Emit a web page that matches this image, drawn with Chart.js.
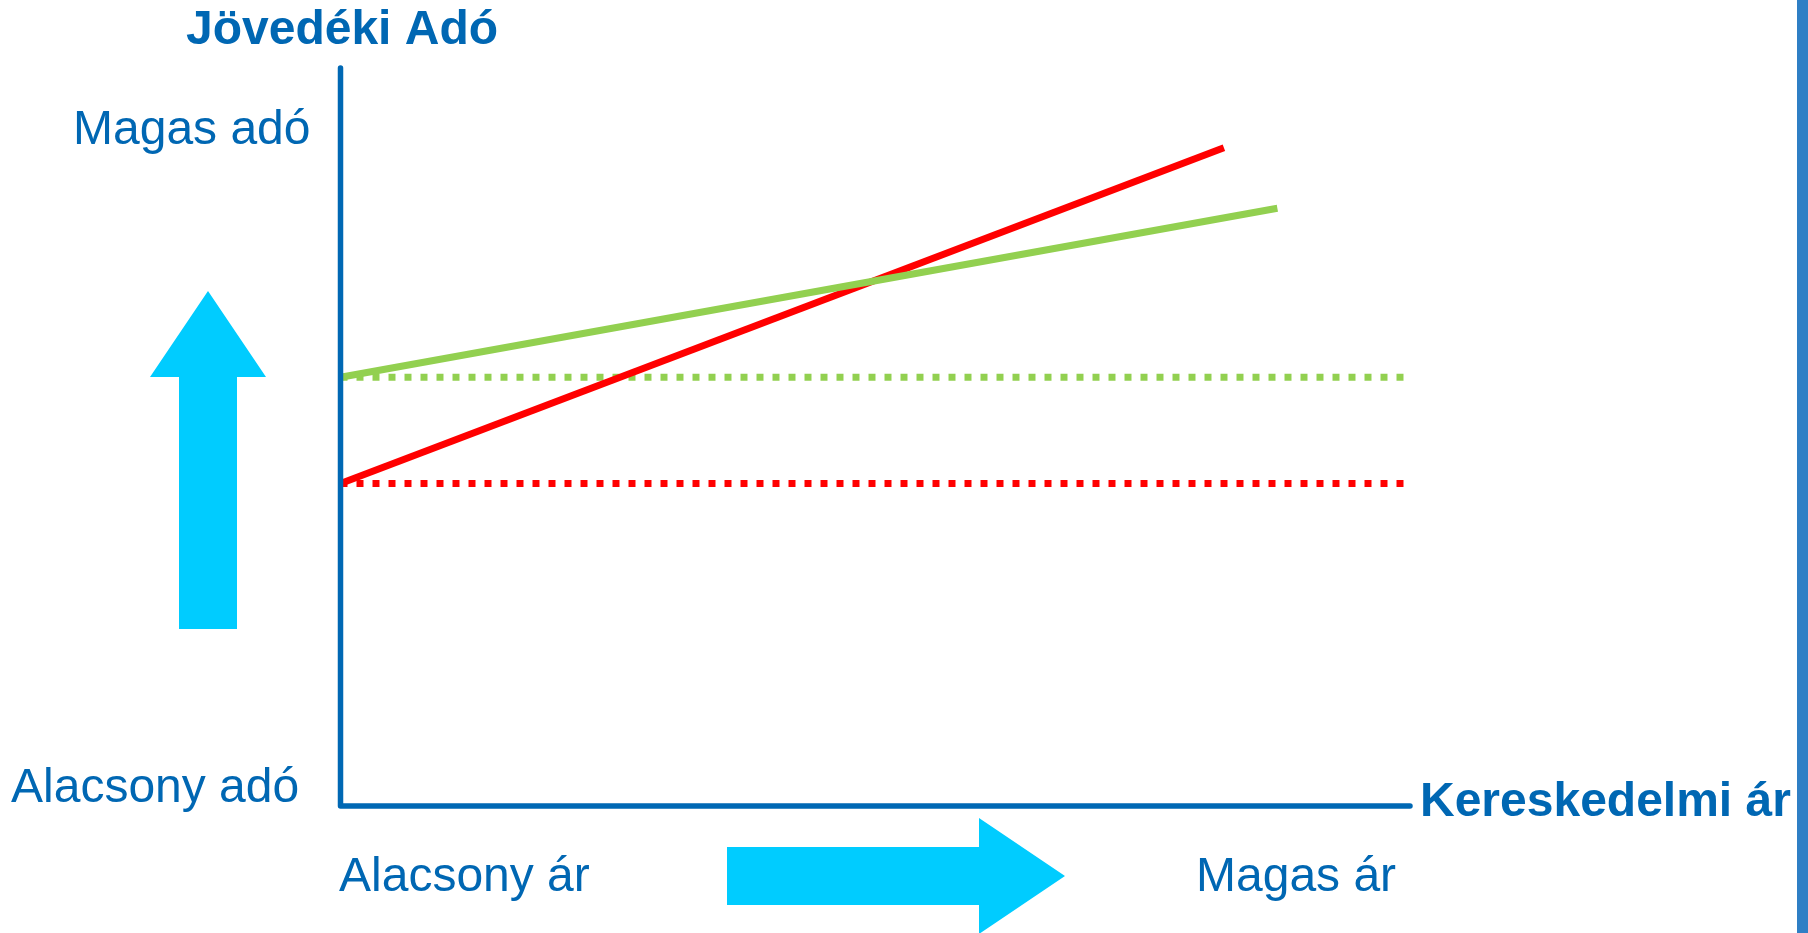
<!DOCTYPE html>
<html>
<head>
<meta charset="utf-8">
<script src="https://cdn.jsdelivr.net/npm/chart.js@4/dist/chart.umd.min.js"></script>
<style>
  html, body { margin: 0; padding: 0; background: #ffffff; overflow: hidden; }
  #wrap { position: relative; width: 1808px; height: 933px; }
</style>
</head>
<body>
<div id="wrap"><canvas id="c" width="1808" height="933"></canvas></div>
<script>
// ---- data ----
const priceRange = [0, 100];          // Kereskedelmi ár (relative)
const taxRange = [0, 100];            // Jövedéki adó (relative)

const greenSolidX = [0, 87.6];
const greenSolidY = [58.1, 81.0];
const redSolidX = [0, 82.6];
const redSolidY = [43.7, 89.2];

const dottedX = [0, 100];
const greenDottedY = [58.1, 58.1];
const redDottedY = [43.7, 43.7];

const titleY = 'Jövedéki Adó';
const titleX = 'Kereskedelmi ár';
const yTickLabels = ['Magas adó', 'Alacsony adó'];
const xTickLabels = ['Alacsony ár', 'Magas ár'];

function pts(xs, ys) { return xs.map((x, i) => ({ x: x, y: ys[i] })); }

const TEXT_BLUE = '#0067b3';
const AXIS_BLUE = '#0068b4';
const CYAN = '#00ccff';
const GREEN = '#92d050';
const RED = '#ff0000';
const FONT = '"Liberation Sans", Arial, sans-serif';

const decorPlugin = {
  id: 'decor',
  beforeDraw(chart) {
    const ctx = chart.ctx;
    ctx.save();
    ctx.fillStyle = '#ffffff';
    ctx.fillRect(0, 0, chart.width, chart.height);
    // blue strip at the right edge
    ctx.fillStyle = '#2f7fc5';
    ctx.fillRect(1797, 0, 11, chart.height);
    ctx.restore();
  },
  afterDatasetsDraw(chart) {
    const ctx = chart.ctx;
    const xs = chart.scales.x, ys = chart.scales.y;
    const x0 = xs.getPixelForValue(priceRange[0]);
    const x1 = xs.getPixelForValue(priceRange[1]);
    const y0 = ys.getPixelForValue(taxRange[0]);
    const y1 = ys.getPixelForValue(taxRange[1]);
    ctx.save();
    // axes
    ctx.strokeStyle = AXIS_BLUE;
    ctx.lineWidth = 5.5;
    ctx.lineCap = 'round';
    ctx.lineJoin = 'round';
    ctx.beginPath();
    ctx.moveTo(x0, y1);
    ctx.lineTo(x0, y0);
    ctx.lineTo(x1, y0);
    ctx.stroke();

    // up arrow
    ctx.fillStyle = CYAN;
    ctx.beginPath();
    ctx.moveTo(208, 291);
    ctx.lineTo(266, 377);
    ctx.lineTo(237, 377);
    ctx.lineTo(237, 629);
    ctx.lineTo(179, 629);
    ctx.lineTo(179, 377);
    ctx.lineTo(150, 377);
    ctx.closePath();
    ctx.fill();

    // right arrow
    ctx.beginPath();
    ctx.moveTo(1065, 876);
    ctx.lineTo(979, 818);
    ctx.lineTo(979, 847);
    ctx.lineTo(727, 847);
    ctx.lineTo(727, 905);
    ctx.lineTo(979, 905);
    ctx.lineTo(979, 934);
    ctx.closePath();
    ctx.fill();

    // texts
    ctx.fillStyle = TEXT_BLUE;
    ctx.textBaseline = 'alphabetic';
    ctx.textAlign = 'left';
    ctx.font = 'bold 48px ' + FONT;
    ctx.fillText(titleY, 186, 44);
    ctx.fillText(titleX, 1420, 816);
    ctx.font = '48px ' + FONT;
    ctx.fillText(yTickLabels[0], 73, 144);
    ctx.fillText(yTickLabels[1], 11, 802);
    ctx.fillText(xTickLabels[0], 339, 891);
    ctx.fillText(xTickLabels[1], 1196, 891);
    ctx.restore();
  }
};

new Chart(document.getElementById('c'), {
  type: 'line',
  data: {
    datasets: [
      { label: 'green', data: pts(greenSolidX, greenSolidY), borderColor: GREEN, borderWidth: 7 },
      { label: 'red', data: pts(redSolidX, redSolidY), borderColor: RED, borderWidth: 7 },
      { label: 'green dotted', data: pts(dottedX, greenDottedY), borderColor: GREEN, borderWidth: 7, borderDash: [7, 9] },
      { label: 'red dotted', data: pts(dottedX, redDottedY), borderColor: RED, borderWidth: 7, borderDash: [7, 9] }
    ]
  },
  options: {
    responsive: false,
    devicePixelRatio: 1,
    animation: false,
    parsing: true,
    elements: {
      point: { radius: 0, hoverRadius: 0 },
      line: { tension: 0, borderCapStyle: 'butt', fill: false }
    },
    layout: { padding: { left: 340.5, right: 398, top: 68, bottom: 127 } },
    scales: {
      x: { type: 'linear', min: priceRange[0], max: priceRange[1], display: false },
      y: { type: 'linear', min: taxRange[0], max: taxRange[1], display: false }
    },
    plugins: {
      legend: { display: false },
      tooltip: { enabled: false },
      title: { display: false }
    },
    events: []
  },
  plugins: [decorPlugin]
});
</script>
</body>
</html>
